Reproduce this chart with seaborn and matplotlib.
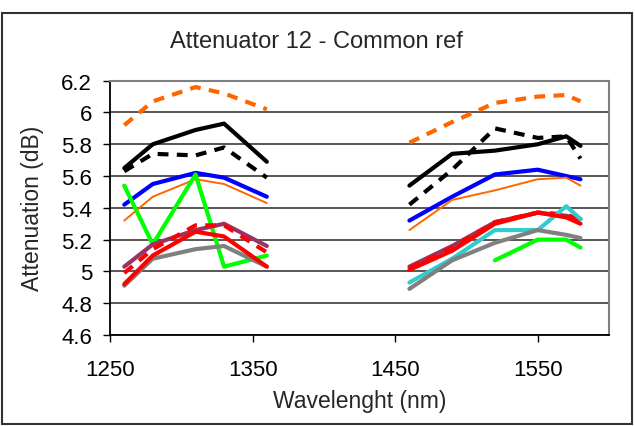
import numpy as np
import pandas as pd
import matplotlib
matplotlib.use("Agg")
import matplotlib.pyplot as plt
import matplotlib.patches as patches
import seaborn as sns

# === Données ===
wavelength = [1260, 1280, 1310, 1330, 1360, 1460, 1490, 1520, 1550, 1570, 1580]
band = ["O", "O", "O", "O", "O", "C", "C", "C", "C", "C", "C"]

orange_dash = [5.92, 6.07, 6.16, 6.12, 6.02, 5.81, 5.94, 6.06, 6.10, 6.11, 6.07]
black_solid = [5.65, 5.80, 5.89, 5.93, 5.69, 5.54, 5.74, 5.76, 5.80, 5.85, 5.79]
black_dash = [5.63, 5.74, 5.73, 5.78, 5.59, 5.42, 5.64, 5.90, 5.84, 5.85, 5.71]
blue = [5.42, 5.55, 5.62, 5.59, 5.47, 5.32, 5.47, 5.61, 5.64, 5.60, 5.58]
orange_thin = [5.32, 5.47, 5.58, 5.55, 5.43, 5.26, 5.45, 5.51, 5.58, 5.59, 5.54]
green = [5.54, 5.17, 5.61, 5.03, 5.10, np.nan, np.nan, 5.07, 5.20, 5.20, 5.15]
purple = [5.03, 5.17, 5.26, 5.30, 5.16, 5.03, 5.16, 5.31, 5.37, 5.35, 5.33]
red_dash = [4.99, 5.14, 5.29, 5.29, 5.12, 5.02, 5.15, 5.31, 5.37, 5.36, 5.32]
cyan = [np.nan, np.nan, np.nan, np.nan, np.nan, 4.93, 5.08, 5.26, 5.26, 5.41, 5.33]
gray = [4.91, 5.08, 5.14, 5.16, 5.03, 4.89, 5.07, 5.18, 5.26, 5.23, 5.21]
red_solid = [4.92, 5.10, 5.25, 5.22, 5.03, 5.01, 5.13, 5.30, 5.37, 5.34, 5.30]

series = {
    "A": orange_dash, "B": black_solid, "C": black_dash, "D": blue,
    "E": orange_thin, "F": green, "G": purple, "H": red_dash,
    "I": cyan, "J": gray, "K": red_solid,
}

# === Style des séries ===
palette = {"A": "#FF6600", "B": "black", "C": "black", "D": "#0000FF",
           "E": "#FF6600", "F": "#00FF00", "G": "#993366", "H": "#FF0000",
           "I": "#33CCCC", "J": "#808080", "K": "#FF0000"}
dashes = {k: "" for k in series}
for k in ["A", "C", "H"]:
    dashes[k] = (2.6, 2.0)
sizes = {k: 3.0 for k in series}
sizes["E"] = 1.4

rows = []
for name, vals in series.items():
    for w, b, v in zip(wavelength, band, vals):
        rows.append({"wl": w, "att": v, "series": name, "band": b})
df = pd.DataFrame(rows).dropna()

sns.set_theme(style="white")
plt.rcParams["font.family"] = ["Liberation Sans", "DejaVu Sans"]

fig = plt.figure(figsize=(6.35, 4.27), dpi=100)
ax = fig.add_axes([110 / 635, 1 - 336 / 427, 499 / 635, 254.3 / 427])

sns.lineplot(data=df, x="wl", y="att", hue="series", style="series", size="series",
             units="band", estimator=None, sort=False, palette=palette,
             dashes=dashes, sizes=sizes, legend=False, ax=ax)

ax.set_xlim(1250, 1600)
ax.set_ylim(4.6, 6.2)
ax.set_xticks([1250, 1350, 1450, 1550])
yt = [4.6, 4.8, 5.0, 5.2, 5.4, 5.6, 5.8, 6.0, 6.2]
ax.set_yticks(yt)
ax.set_yticklabels(["4.6", "4.8", "5", "5.2", "5.4", "5.6", "5.8", "6", "6.2"])
ax.grid(axis="y", color="#3a3a3a", lw=1.2)
ax.grid(axis="x", visible=False)
ax.set_axisbelow(True)

for s in ["top", "right"]:
    ax.spines[s].set_color("#808080")
    ax.spines[s].set_linewidth(1.5)
for s in ["left", "bottom"]:
    ax.spines[s].set_color("black")
    ax.spines[s].set_linewidth(1.3)

ax.tick_params(axis="both", direction="out", length=5, width=1, colors="black",
               labelsize=16)
ax.tick_params(axis="y", pad=8, left=True)
ax.tick_params(axis="x", pad=12, bottom=True)

ax.set_xlabel("Wavelenght (nm)", fontsize=16.5)
ax.set_ylabel("Attenuation (dB)", fontsize=16.5)
ax.xaxis.set_label_coords(0.501, -0.256)
ax.xaxis.label.set_verticalalignment("center")
ax.yaxis.set_label_coords(-0.156, 0.5)
ax.yaxis.label.set_verticalalignment("center")

fig.text(316 / 635, 1 - 42 / 427, "Attenuator 12 - Common ref", ha="center",
         va="center", fontsize=17)

# cadre du graphique
fig.patches.append(patches.Rectangle((2 / 635, 2 / 427), 630 / 635, 411 / 427,
                                     transform=fig.transFigure, fill=False,
                                     edgecolor="#333333", lw=1.5))

fig.savefig("out.png", dpi=100)
